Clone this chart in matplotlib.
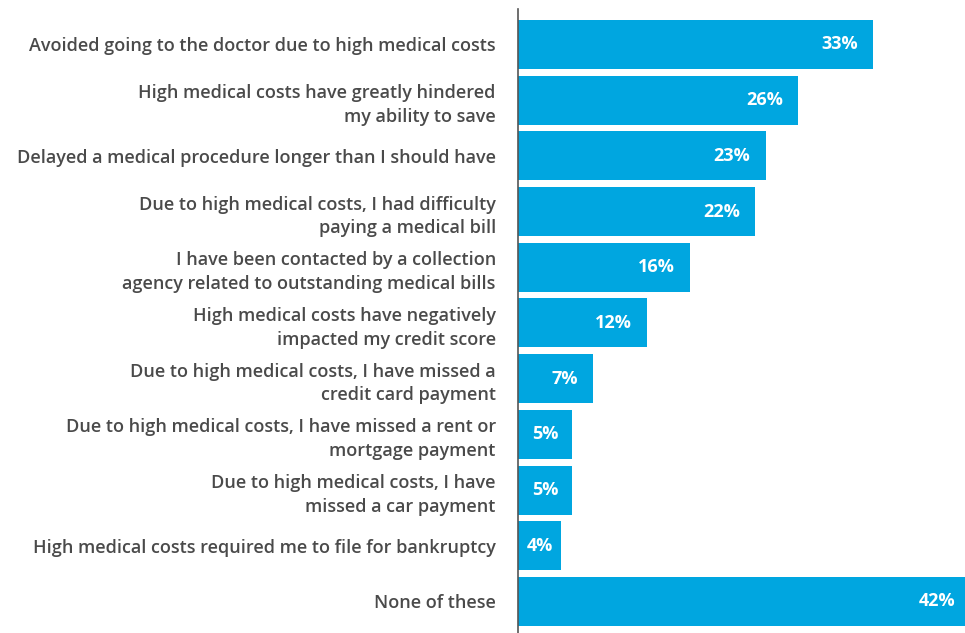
import matplotlib.pyplot as plt

categories = [
    "Avoided going to the doctor due to high medical costs",
    "High medical costs have greatly hindered\nmy ability to save",
    "Delayed a medical procedure longer than I should have",
    "Due to high medical costs, I had difficulty\npaying a medical bill",
    "I have been contacted by a collection\nagency related to outstanding medical bills",
    "High medical costs have negatively\nimpacted my credit score",
    "Due to high medical costs, I have missed a\ncredit card payment",
    "Due to high medical costs, I have missed a rent or\nmortgage payment",
    "Due to high medical costs, I have\nmissed a car payment",
    "High medical costs required me to file for bankruptcy",
    "None of these",
]
values = [33, 26, 23, 22, 16, 12, 7, 5, 5, 4, 42]

bar_color = "#00a6e0"
text_color = "#4a4a4a"

plt.rcParams['font.family'] = ['Open Sans', 'DejaVu Sans']

fig = plt.figure(figsize=(9.65, 6.33), dpi=100)
ax = fig.add_axes([518 / 965, 0, 1 - 518 / 965, 1 - 9 / 633])

pos = list(range(len(values)))
ax.barh(pos, values, height=0.88, color=bar_color, zorder=2)

for p, v in zip(pos, values):
    if v < 6:
        # short bars: centre the label inside the bar
        ax.annotate(f"{v}%", xy=(v / 2, p), ha="center", va="center",
                    color="white", fontsize=13, fontweight="bold",
                    zorder=3, annotation_clip=False)
    else:
        ax.annotate(f"{v}%", xy=(v, p), xytext=(-11, 0), textcoords="offset points",
                    ha="right", va="center", color="white", fontsize=13,
                    fontweight="bold", zorder=3, annotation_clip=False)

ax.set_xlim(0, 41.5)
ax.set_ylim(10.566, -0.637)
ax.set_yticks(pos)
ax.set_yticklabels(categories, fontsize=13, fontweight="semibold", color=text_color,
                   linespacing=1.4)
ax.tick_params(axis="y", length=0, pad=16)
ax.set_xticks([])

for s in ["top", "right", "bottom"]:
    ax.spines[s].set_visible(False)
ax.spines["left"].set_color("#555555")
ax.spines["left"].set_linewidth(1.2)

fig.savefig("out.png", dpi=100)
